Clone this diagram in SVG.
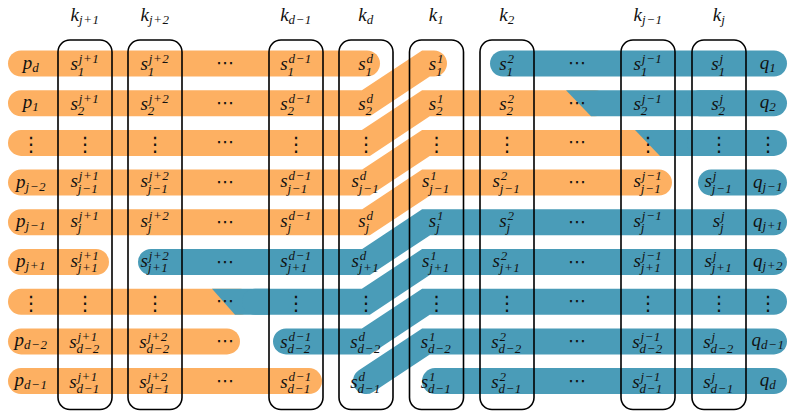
<svg xmlns="http://www.w3.org/2000/svg" width="788" height="411" viewBox="0 0 788 411">
<style>
.o{fill:none;stroke:#FDB062;stroke-width:26;stroke-linecap:round;stroke-linejoin:miter}
.b{fill:none;stroke:#4A9CB8;stroke-width:26;stroke-linecap:round;stroke-linejoin:miter}
.bp{fill:#4A9CB8}
.box{fill:none;stroke:#000;stroke-width:1.6}
.m{font-family:"Liberation Serif",serif;font-style:italic;font-size:19px;fill:#111}
.t{font-size:13px;letter-spacing:0.5px}
.a{text-anchor:middle}
.c{font-family:"DejaVu Sans",sans-serif;font-size:18px;text-anchor:middle;fill:#111}
.v{font-family:"DejaVu Sans",sans-serif;font-size:20px;text-anchor:middle;fill:#111}
</style>
<g id="bands">
<path class="o" d="M21 63.5H367"/>
<path class="o" d="M21 103.2H366L426 63.5H434"/>
<path class="o" d="M21 142.9H366L426 103.2H595"/>
<path class="o" d="M21 182.6H366L426 142.9H665"/>
<path class="o" d="M21 222.3H366L426 182.6H659"/>
<path class="o" d="M21 262H96"/>
<path class="o" d="M21 301.7H240"/>
<path class="o" d="M21 341.4H227"/>
<path class="o" d="M21 381.1H309"/>
<path class="b" d="M503 63.5H774"/>
<polygon class="bp" points="566,90.2 720,90.2 720,116.2 591,116.2"/>
<path class="b" d="M700 103.2H774"/>
<polygon class="bp" points="635,129.9 720,129.9 720,155.9 660,155.9"/>
<path class="b" d="M700 142.9H774"/>
<path class="b" d="M711 182.6H774"/>
<path class="b" d="M151 262H366L426 222.3H774"/>
<polygon class="bp" points="212,288.7 270,288.7 270,314.7 235,314.7"/>
<path class="b" d="M255 301.7H366L426 262H774"/>
<path class="b" d="M286 341.4H366L426 301.7H774"/>
<path class="b" d="M366 381.1L426 341.4H774"/>
<path class="b" d="M435 381.1H774"/>
</g>
<g id="k_j1"><rect class="box" x="58" y="40" width="54" height="369.5" rx="12"/><text class="m a" x="85" y="20.5">k<tspan class="t" dy="3.5">j+1</tspan></text></g>
<g id="k_j2"><rect class="box" x="128" y="40" width="54" height="369.5" rx="12"/><text class="m a" x="155" y="20.5">k<tspan class="t" dy="3.5">j+2</tspan></text></g>
<g id="k_dm1"><rect class="box" x="269" y="40" width="54" height="369.5" rx="12"/><text class="m a" x="296" y="20.5">k<tspan class="t" dy="3.5">d−1</tspan></text></g>
<g id="k_d"><rect class="box" x="339" y="40" width="54" height="369.5" rx="12"/><text class="m a" x="366" y="20.5">k<tspan class="t" dy="3.5">d</tspan></text></g>
<g id="k_1"><rect class="box" x="409.5" y="40" width="54" height="369.5" rx="12"/><text class="m a" x="436.5" y="20.5">k<tspan class="t" dy="3.5">1</tspan></text></g>
<g id="k_2"><rect class="box" x="480" y="40" width="54" height="369.5" rx="12"/><text class="m a" x="507" y="20.5">k<tspan class="t" dy="3.5">2</tspan></text></g>
<g id="k_jm1"><rect class="box" x="621" y="40" width="54" height="369.5" rx="12"/><text class="m a" x="648" y="20.5">k<tspan class="t" dy="3.5">j−1</tspan></text></g>
<g id="k_j"><rect class="box" x="692" y="40" width="54" height="369.5" rx="12"/><text class="m a" x="719" y="20.5">k<tspan class="t" dy="3.5">j</tspan></text></g>
<g id="labels">
<text class="m a" x="31" y="68.5">p<tspan class="t" dy="3">d</tspan></text>
<text class="m a" x="31" y="108.2">p<tspan class="t" dy="3">1</tspan></text>
<text class="m a" x="31" y="187.6">p<tspan class="t" dy="3">j−2</tspan></text>
<text class="m a" x="31" y="227.3">p<tspan class="t" dy="3">j−1</tspan></text>
<text class="m a" x="31" y="267">p<tspan class="t" dy="3">j+1</tspan></text>
<text class="m a" x="31" y="346.4">p<tspan class="t" dy="3">d−2</tspan></text>
<text class="m a" x="31" y="386.1">p<tspan class="t" dy="3">d−1</tspan></text>
<text class="m a" x="768" y="68.5">q<tspan class="t" dy="3">1</tspan></text>
<text class="m a" x="768" y="108.2">q<tspan class="t" dy="3">2</tspan></text>
<text class="m a" x="768" y="187.6">q<tspan class="t" dy="3">j−1</tspan></text>
<text class="m a" x="768" y="227.3">q<tspan class="t" dy="3">j+1</tspan></text>
<text class="m a" x="768" y="267">q<tspan class="t" dy="3">j+2</tspan></text>
<text class="m a" x="768" y="346.4">q<tspan class="t" dy="3">d−1</tspan></text>
<text class="m a" x="768" y="386.1">q<tspan class="t" dy="3">d</tspan></text>
</g>
<g id="row1">
<text class="m" x="70.6" y="70">s<tspan class="t" x="78.8" y="63">j+1</tspan><tspan class="t" x="77.8" y="75.5">1</tspan></text>
<text class="m" x="140.6" y="70">s<tspan class="t" x="148.8" y="63">j+2</tspan><tspan class="t" x="147.8" y="75.5">1</tspan></text>
<text class="m" x="280.2" y="70">s<tspan class="t" x="288.4" y="63">d−1</tspan><tspan class="t" x="287.4" y="75.5">1</tspan></text>
<text class="m" x="358.3" y="70">s<tspan class="t" x="366.5" y="63">d</tspan><tspan class="t" x="365.5" y="75.5">1</tspan></text>
<text class="m" x="428.8" y="70">s<tspan class="t" x="437" y="63">1</tspan><tspan class="t" x="436" y="75.5">1</tspan></text>
<text class="m" x="499.3" y="70">s<tspan class="t" x="507.5" y="63">2</tspan><tspan class="t" x="506.5" y="75.5">1</tspan></text>
<text class="m" x="633.6" y="70">s<tspan class="t" x="641.8" y="63">j−1</tspan><tspan class="t" x="640.8" y="75.5">1</tspan></text>
<text class="m" x="711.3" y="70">s<tspan class="t" x="719.5" y="63">j</tspan><tspan class="t" x="718.5" y="75.5">1</tspan></text>
<text class="c" x="225" y="69">⋯</text><text class="c" x="577" y="69">⋯</text>
</g>
<g id="row2">
<text class="m" x="70.6" y="109.7">s<tspan class="t" x="78.8" y="102.7">j+1</tspan><tspan class="t" x="77.8" y="115.2">2</tspan></text>
<text class="m" x="140.6" y="109.7">s<tspan class="t" x="148.8" y="102.7">j+2</tspan><tspan class="t" x="147.8" y="115.2">2</tspan></text>
<text class="m" x="280.2" y="109.7">s<tspan class="t" x="288.4" y="102.7">d−1</tspan><tspan class="t" x="287.4" y="115.2">2</tspan></text>
<text class="m" x="358.3" y="109.7">s<tspan class="t" x="366.5" y="102.7">d</tspan><tspan class="t" x="365.5" y="115.2">2</tspan></text>
<text class="m" x="428.8" y="109.7">s<tspan class="t" x="437" y="102.7">1</tspan><tspan class="t" x="436" y="115.2">2</tspan></text>
<text class="m" x="499.3" y="109.7">s<tspan class="t" x="507.5" y="102.7">2</tspan><tspan class="t" x="506.5" y="115.2">2</tspan></text>
<text class="m" x="633.6" y="109.7">s<tspan class="t" x="641.8" y="102.7">j−1</tspan><tspan class="t" x="640.8" y="115.2">2</tspan></text>
<text class="m" x="711.3" y="109.7">s<tspan class="t" x="719.5" y="102.7">j</tspan><tspan class="t" x="718.5" y="115.2">2</tspan></text>
<text class="c" x="225" y="108.7">⋯</text><text class="c" x="577" y="108.7">⋯</text>
</g>
<g id="row3">
<text class="v" x="31" y="150.9">⋮</text>
<text class="v" x="85" y="150.9">⋮</text>
<text class="v" x="155" y="150.9">⋮</text>
<text class="c" x="225" y="148.4">⋯</text>
<text class="v" x="296" y="150.9">⋮</text>
<text class="v" x="366" y="150.9">⋮</text>
<text class="v" x="436.5" y="150.9">⋮</text>
<text class="v" x="507" y="150.9">⋮</text>
<text class="c" x="577" y="148.4">⋯</text>
<text class="v" x="648" y="150.9">⋮</text>
<text class="v" x="719" y="150.9">⋮</text>
<text class="v" x="768" y="150.9">⋮</text>
</g>
<g id="row4">
<text class="m" x="70.6" y="187.1">s<tspan class="t" x="78.8" y="180.1">j+1</tspan><tspan class="t" x="77.8" y="192.6">j−1</tspan></text>
<text class="m" x="140.6" y="187.1">s<tspan class="t" x="148.8" y="180.1">j+2</tspan><tspan class="t" x="147.8" y="192.6">j−1</tspan></text>
<text class="m" x="280.2" y="187.1">s<tspan class="t" x="288.4" y="180.1">d−1</tspan><tspan class="t" x="287.4" y="192.6">j−1</tspan></text>
<text class="m" x="351.6" y="187.1">s<tspan class="t" x="359.8" y="180.1">d</tspan><tspan class="t" x="358.8" y="192.6">j−1</tspan></text>
<text class="m" x="422.1" y="187.1">s<tspan class="t" x="430.3" y="180.1">1</tspan><tspan class="t" x="429.3" y="192.6">j−1</tspan></text>
<text class="m" x="492.6" y="187.1">s<tspan class="t" x="500.8" y="180.1">2</tspan><tspan class="t" x="499.8" y="192.6">j−1</tspan></text>
<text class="m" x="633.6" y="187.1">s<tspan class="t" x="641.8" y="180.1">j−1</tspan><tspan class="t" x="640.8" y="192.6">j−1</tspan></text>
<text class="m" x="704.6" y="187.1">s<tspan class="t" x="712.8" y="180.1">j</tspan><tspan class="t" x="711.8" y="192.6">j−1</tspan></text>
<text class="c" x="225" y="188.1">⋯</text><text class="c" x="577" y="188.1">⋯</text>
</g>
<g id="row5">
<text class="m" x="70.6" y="226.8">s<tspan class="t" x="78.8" y="219.8">j+1</tspan><tspan class="t" x="77.8" y="232.3">j</tspan></text>
<text class="m" x="140.6" y="226.8">s<tspan class="t" x="148.8" y="219.8">j+2</tspan><tspan class="t" x="147.8" y="232.3">j</tspan></text>
<text class="m" x="280.2" y="226.8">s<tspan class="t" x="288.4" y="219.8">d−1</tspan><tspan class="t" x="287.4" y="232.3">j</tspan></text>
<text class="m" x="358.3" y="226.8">s<tspan class="t" x="366.5" y="219.8">d</tspan><tspan class="t" x="365.5" y="232.3">j</tspan></text>
<text class="m" x="428.8" y="226.8">s<tspan class="t" x="437" y="219.8">1</tspan><tspan class="t" x="436" y="232.3">j</tspan></text>
<text class="m" x="499.3" y="226.8">s<tspan class="t" x="507.5" y="219.8">2</tspan><tspan class="t" x="506.5" y="232.3">j</tspan></text>
<text class="m" x="633.6" y="226.8">s<tspan class="t" x="641.8" y="219.8">j−1</tspan><tspan class="t" x="640.8" y="232.3">j</tspan></text>
<text class="m" x="712.8" y="226.8">s<tspan class="t" x="721" y="219.8">j</tspan><tspan class="t" x="720" y="232.3">j</tspan></text>
<text class="c" x="225" y="227.8">⋯</text><text class="c" x="577" y="227.8">⋯</text>
</g>
<g id="row6">
<text class="m" x="70.6" y="266.5">s<tspan class="t" x="78.8" y="259.5">j+1</tspan><tspan class="t" x="77.8" y="272">j+1</tspan></text>
<text class="m" x="140.6" y="266.5">s<tspan class="t" x="148.8" y="259.5">j+2</tspan><tspan class="t" x="147.8" y="272">j+1</tspan></text>
<text class="m" x="280.2" y="266.5">s<tspan class="t" x="288.4" y="259.5">d−1</tspan><tspan class="t" x="287.4" y="272">j+1</tspan></text>
<text class="m" x="351.6" y="266.5">s<tspan class="t" x="359.8" y="259.5">d</tspan><tspan class="t" x="358.8" y="272">j+1</tspan></text>
<text class="m" x="422.1" y="266.5">s<tspan class="t" x="430.3" y="259.5">1</tspan><tspan class="t" x="429.3" y="272">j+1</tspan></text>
<text class="m" x="492.6" y="266.5">s<tspan class="t" x="500.8" y="259.5">2</tspan><tspan class="t" x="499.8" y="272">j+1</tspan></text>
<text class="m" x="633.6" y="266.5">s<tspan class="t" x="641.8" y="259.5">j−1</tspan><tspan class="t" x="640.8" y="272">j+1</tspan></text>
<text class="m" x="704.6" y="266.5">s<tspan class="t" x="712.8" y="259.5">j</tspan><tspan class="t" x="711.8" y="272">j+1</tspan></text>
<text class="c" x="225" y="267.5">⋯</text><text class="c" x="577" y="267.5">⋯</text>
</g>
<g id="row7">
<text class="v" x="31" y="309.7">⋮</text>
<text class="v" x="85" y="309.7">⋮</text>
<text class="v" x="155" y="309.7">⋮</text>
<text class="c" x="225" y="307.2">⋯</text>
<text class="v" x="296" y="309.7">⋮</text>
<text class="v" x="366" y="309.7">⋮</text>
<text class="v" x="436.5" y="309.7">⋮</text>
<text class="v" x="507" y="309.7">⋮</text>
<text class="c" x="577" y="307.2">⋯</text>
<text class="v" x="648" y="309.7">⋮</text>
<text class="v" x="719" y="309.7">⋮</text>
<text class="v" x="768" y="309.7">⋮</text>
</g>
<g id="row8">
<text class="m" x="69.2" y="347.9">s<tspan class="t" x="77.4" y="340.9">j+1</tspan><tspan class="t" x="76.4" y="353.4">d−2</tspan></text>
<text class="m" x="139.2" y="347.9">s<tspan class="t" x="147.4" y="340.9">j+2</tspan><tspan class="t" x="146.4" y="353.4">d−2</tspan></text>
<text class="m" x="280.2" y="347.9">s<tspan class="t" x="288.4" y="340.9">d−1</tspan><tspan class="t" x="287.4" y="353.4">d−2</tspan></text>
<text class="m" x="350.2" y="347.9">s<tspan class="t" x="358.4" y="340.9">d</tspan><tspan class="t" x="357.4" y="353.4">d−2</tspan></text>
<text class="m" x="420.7" y="347.9">s<tspan class="t" x="428.9" y="340.9">1</tspan><tspan class="t" x="427.9" y="353.4">d−2</tspan></text>
<text class="m" x="491.2" y="347.9">s<tspan class="t" x="499.4" y="340.9">2</tspan><tspan class="t" x="498.4" y="353.4">d−2</tspan></text>
<text class="m" x="632.2" y="347.9">s<tspan class="t" x="640.4" y="340.9">j−1</tspan><tspan class="t" x="639.4" y="353.4">d−2</tspan></text>
<text class="m" x="703.2" y="347.9">s<tspan class="t" x="711.4" y="340.9">j</tspan><tspan class="t" x="710.4" y="353.4">d−2</tspan></text>
<text class="c" x="225" y="346.9">⋯</text><text class="c" x="577" y="346.9">⋯</text>
</g>
<g id="row9">
<text class="m" x="69.2" y="387.6">s<tspan class="t" x="77.4" y="380.6">j+1</tspan><tspan class="t" x="76.4" y="393.1">d−1</tspan></text>
<text class="m" x="139.2" y="387.6">s<tspan class="t" x="147.4" y="380.6">j+2</tspan><tspan class="t" x="146.4" y="393.1">d−1</tspan></text>
<text class="m" x="280.2" y="387.6">s<tspan class="t" x="288.4" y="380.6">d−1</tspan><tspan class="t" x="287.4" y="393.1">d−1</tspan></text>
<text class="m" x="350.2" y="387.6">s<tspan class="t" x="358.4" y="380.6">d</tspan><tspan class="t" x="357.4" y="393.1">d−1</tspan></text>
<text class="m" x="420.7" y="387.6">s<tspan class="t" x="428.9" y="380.6">1</tspan><tspan class="t" x="427.9" y="393.1">d−1</tspan></text>
<text class="m" x="491.2" y="387.6">s<tspan class="t" x="499.4" y="380.6">2</tspan><tspan class="t" x="498.4" y="393.1">d−1</tspan></text>
<text class="m" x="632.2" y="387.6">s<tspan class="t" x="640.4" y="380.6">j−1</tspan><tspan class="t" x="639.4" y="393.1">d−1</tspan></text>
<text class="m" x="703.2" y="387.6">s<tspan class="t" x="711.4" y="380.6">j</tspan><tspan class="t" x="710.4" y="393.1">d−1</tspan></text>
<text class="c" x="225" y="386.6">⋯</text><text class="c" x="577" y="386.6">⋯</text>
</g>
</svg>
